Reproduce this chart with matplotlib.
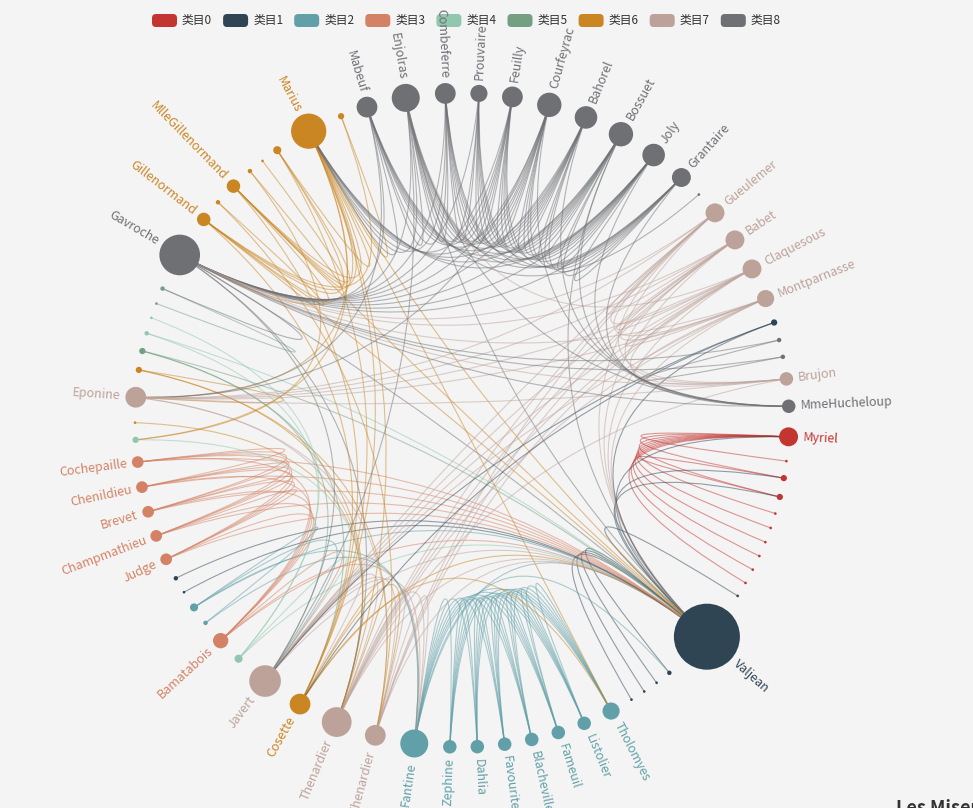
import numpy as np
import matplotlib.pyplot as plt
from matplotlib.path import Path
from matplotlib.patches import PathPatch, Circle, FancyBboxPatch

names = ["Myriel", "Napoleon", "MlleBaptistine", "MmeMagloire", "CountessDeLo", "Geborand",
         "Champtercier", "Cravatte", "Count", "OldMan", "Labarre", "Valjean", "Marguerite",
         "MmeDeR", "Isabeau", "Gervais", "Tholomyes", "Listolier", "Fameuil", "Blacheville",
         "Favourite", "Dahlia", "Zephine", "Fantine", "MmeThenardier", "Thenardier", "Cosette",
         "Javert", "Fauchelevent", "Bamatabois", "Perpetue", "Simplice", "Scaufflaire", "Woman1",
         "Judge", "Champmathieu", "Brevet", "Chenildieu", "Cochepaille", "Pontmercy",
         "Boulatruelle", "Eponine", "Anzelma", "Woman2", "MotherInnocent", "Gribier", "Jondrette",
         "MmeBurgon", "Gavroche", "Gillenormand", "Magnon", "MlleGillenormand", "MmePontmercy",
         "MlleVaubois", "LtGillenormand", "Marius", "BaronessT", "Mabeuf", "Enjolras",
         "Combeferre", "Prouvaire", "Feuilly", "Courfeyrac", "Bahorel", "Bossuet", "Joly",
         "Grantaire", "MotherPlutarch", "Gueulemer", "Babet", "Claquesous", "Montparnasse",
         "Toussaint", "Child1", "Child2", "Brujon", "MmeHucheloup"]
sizes = [28.69, 4, 9.49, 9.49, 4, 4, 4, 4, 4, 4, 4, 100, 6.74, 4, 4, 4, 25.94, 20.46, 20.46,
         20.46, 20.46, 20.46, 20.46, 42.4, 31.43, 45.14, 31.43, 47.89, 12.23, 23.2, 6.74, 12.23,
         4, 6.74, 17.71, 17.71, 17.71, 17.71, 17.71, 9.49, 4, 31.43, 9.49, 9.49, 6.74, 4, 4, 6.74,
         61.6, 20.46, 6.74, 20.46, 6.74, 4, 12.23, 53.37, 9.49, 31.43, 42.4, 31.43, 25.94, 31.43,
         36.91, 34.17, 36.91, 34.17, 28.69, 4, 28.69, 28.69, 28.69, 25.94, 9.49, 6.74, 6.74,
         20.46, 20.46]
cats = [0, 0, 0, 0, 0, 0, 0, 0, 0, 0, 1, 1, 1, 1, 1, 1, 2, 2, 2, 2, 2, 2, 2, 2, 7, 7, 6, 7, 4, 3,
        2, 2, 1, 1, 3, 3, 3, 3, 3, 4, 6, 7, 6, 5, 4, 4, 5, 5, 8, 6, 6, 6, 6, 6, 6, 6, 6, 8, 8, 8,
        8, 8, 8, 8, 8, 8, 8, 8, 7, 7, 7, 7, 1, 8, 8, 7, 8]
edges = [(1,0),(2,0),(3,0),(3,2),(4,0),(5,0),(6,0),(7,0),(8,0),(9,0),(11,10),(11,3),(11,2),(11,0),
         (12,11),(13,11),(14,11),(15,11),(17,16),(18,16),(18,17),(19,16),(19,17),(19,18),(20,16),
         (20,17),(20,18),(20,19),(21,16),(21,17),(21,18),(21,19),(21,20),(22,16),(22,17),(22,18),
         (22,19),(22,20),(22,21),(23,16),(23,17),(23,18),(23,19),(23,20),(23,21),(23,22),(23,12),
         (23,11),(24,23),(24,11),(25,24),(25,23),(25,11),(26,24),(26,11),(26,16),(26,25),(27,11),
         (27,23),(27,25),(27,24),(27,26),(28,11),(28,27),(29,23),(29,27),(29,11),(30,23),(31,30),
         (31,11),(31,23),(31,27),(32,11),(33,11),(34,11),(34,29),(35,34),(35,11),(35,29),(36,35),
         (36,34),(36,11),(36,29),(37,36),(37,35),(37,34),(37,11),(37,29),(38,37),(38,36),(38,35),
         (38,34),(38,29),(38,11),(39,25),(40,25),(41,24),(41,25),(42,41),(42,25),(42,24),(43,11),
         (43,26),(43,27),(44,28),(44,11),(45,28),(47,46),(48,47),(48,25),(48,27),(48,11),(49,26),
         (49,11),(50,49),(50,24),(51,49),(51,26),(51,11),(52,51),(52,39),(53,51),(54,51),(54,49),
         (54,26),(55,51),(55,49),(55,39),(55,54),(55,26),(55,11),(55,16),(55,25),(55,41),(55,48),
         (56,49),(56,55),(57,55),(57,41),(57,48),(58,55),(58,48),(58,27),(58,57),(58,11),(59,58),
         (59,55),(59,48),(59,57),(60,48),(60,58),(60,59),(61,48),(61,58),(61,60),(61,59),(61,57),
         (61,55),(62,55),(62,58),(62,59),(62,48),(62,57),(62,41),(62,61),(62,60),(63,59),(63,48),
         (63,62),(63,57),(63,58),(63,61),(63,60),(63,55),(64,55),(64,62),(64,48),(64,63),(64,58),
         (64,61),(64,60),(64,59),(64,57),(64,11),(65,63),(65,64),(65,48),(65,62),(65,58),(65,61),
         (65,60),(65,59),(65,57),(65,55),(66,64),(66,58),(66,59),(66,62),(66,65),(66,48),(66,63),
         (66,61),(66,60),(67,57),(68,25),(68,11),(68,24),(68,27),(68,48),(68,41),(69,25),(69,68),
         (69,11),(69,24),(69,27),(69,48),(69,41),(70,25),(70,69),(70,68),(70,11),(70,24),(70,27),
         (70,41),(70,58),(71,27),(71,69),(71,68),(71,70),(71,11),(71,48),(71,41),(71,25),(72,26),
         (72,27),(72,11),(73,48),(74,48),(74,73),(75,69),(75,68),(75,25),(75,48),(75,41),(75,70),
         (75,71),(76,64),(76,65),(76,66),(76,63),(76,62),(76,48),(76,58)]
legend_labels = ["类目%d" % i for i in range(9)]
palette = ["#c23531", "#2f4554", "#61a0a8", "#d48265", "#91c7ae", "#749f83", "#ca8622",
           "#bda29a", "#6e7074"]

plt.rcParams['font.family'] = ['Noto Sans CJK SC', 'DejaVu Sans']
W, H = 973, 808
fig = plt.figure(figsize=(W / 100, H / 100), dpi=100, facecolor="#f4f4f4")
ax = fig.add_axes([0, 0, 1, 1])
ax.set_xlim(0, W)
ax.set_ylim(H, 0)
ax.axis('off')

# circular layout: angle share = base + size term (like echarts symbolSize layout)
cx, cy, R = 462, 420, 327
sz = np.array(sizes)
w = 1 + 0.0618 * sz
w = w / w.sum() * 2 * np.pi
ang = np.cumsum(w) - w / 2
px = cx + R * np.cos(ang)
py = cy + R * np.sin(ang)
scale = 0.66

for s, t in edges:
    x1, y1, x2, y2 = px[s], py[s], px[t], py[t]
    mx, my = (x1 + x2) / 2, (y1 + y2) / 2
    c = 0.9
    cpx, cpy = cx * c + mx * (1 - c), cy * c + my * (1 - c)
    path = Path([(x1, y1), (cpx, cpy), (x2, y2)], [Path.MOVETO, Path.CURVE3, Path.CURVE3])
    ax.add_patch(PathPatch(path, fc='none', ec=palette[cats[s]], lw=0.8, alpha=0.5, zorder=1))

for i in range(len(names)):
    r = sz[i] * scale / 2
    ax.add_patch(Circle((px[i], py[i]), r, fc=palette[cats[i]], ec='none', zorder=2))
    if sizes[i] > 15:
        deg = np.degrees(ang[i])
        d = r + 5
        lx, ly = px[i] + d * np.cos(ang[i]), py[i] + d * np.sin(ang[i])
        if 90 < deg < 270:
            rot, ha = 180 - deg, 'right'
        else:
            rot, ha = -deg, 'left'
        ax.text(lx, ly, names[i], color=palette[cats[i]], fontsize=9, rotation=rot,
                rotation_mode='anchor', ha=ha, va='center', zorder=3)

# legend
x0 = 152
for i, lab in enumerate(legend_labels):
    xx = x0 + i * 71.1
    ax.add_patch(FancyBboxPatch((xx, 14), 25, 13, boxstyle="round,pad=0,rounding_size=4",
                                fc=palette[i], ec='none'))
    ax.text(xx + 30, 20.5, lab, fontsize=8.5, color='#333333', va='center', ha='left')

ax.text(896, 799, "Les Miserables", fontsize=13, fontweight='bold', color='#333333',
        ha='left', va='top')

fig.savefig("out.png", dpi=100, facecolor=fig.get_facecolor())
